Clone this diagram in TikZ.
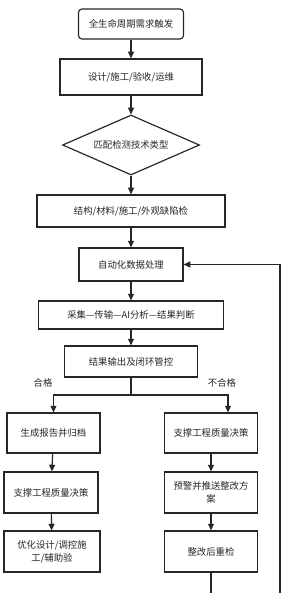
\documentclass[tikz,border=0pt]{standalone}
\usepackage{fontspec}
\newfontfamily\cjk{Noto Sans CJK SC}
\usetikzlibrary{arrows.meta,shapes.geometric}
\definecolor{fcInk}{HTML}{262626}
\newlength{\px}
\setlength{\px}{0.3mm}
\tikzset{
  stepbox/.style ={draw=fcInk,line width=1pt,fill=white,align=center,inner sep=1pt,
                   font=\cjk\fontsize{8}{11}\selectfont,text=fcInk},
  startbox/.style={stepbox,rounded corners=3pt},
  decide/.style  ={stepbox,diamond,aspect=2.3,inner sep=0pt},
  flow/.style    ={-{Triangle[length=2mm,width=1.8mm]},fcInk,line width=1pt},
  lbl/.style     ={font=\cjk\fontsize{8}{10}\selectfont,text=fcInk},
}
\begin{document}
\begin{tikzpicture}[x=0.3mm,y=-0.3mm]
\useasboundingbox (0,0) rectangle (284,593);

% main chain
\node[startbox,minimum width=105\px,minimum height=30\px] (trigger) at (131,24) {全生命周期需求触发};
\node[stepbox,minimum width=142\px,minimum height=36\px] (stage) at (131,77) {设计/施工/验收/运维};
\node[decide,minimum width=137\px,minimum height=60\px] (match) at (131,145) {匹配检测技术类型};
\node[stepbox,minimum width=188\px,minimum height=32\px] (inspect) at (131,211) {结构/材料/施工/外观缺陷检};
\node[stepbox,minimum width=104\px,minimum height=33\px] (process) at (131,264.5) {自动化数据处理};
\node[stepbox,minimum width=185\px,minimum height=28\px] (pipeline) at (131,315) {采集—传输—AI分析—结果判断};
\node[stepbox,minimum width=133\px,minimum height=31\px] (output) at (131,361.5) {结果输出及闭环管控};

\draw[flow] (trigger) -- (stage);
\draw[flow] (stage) -- (match);
\draw[flow] (match) -- (inspect);
\draw[flow] (inspect) -- (process);
\draw[flow] (process) -- (pipeline);
\draw[flow] (pipeline) -- (output);

% qualified branch
\node[stepbox,minimum width=93\px,minimum height=40\px] (report) at (53.5,433) {生成报告并归档};
\node[stepbox,minimum width=94\px,minimum height=41\px] (decideL) at (51,492.5) {支撑工程质量决策};
\node[stepbox,minimum width=96\px,minimum height=41\px] (optimize) at (52,551.5) {优化设计/调控施\\工/辅助验};

% unqualified branch
\node[stepbox,minimum width=93\px,minimum height=40\px] (decideR) at (211,433) {支撑工程质量决策};
\node[stepbox,minimum width=93\px,minimum height=41\px] (warn) at (211,492.5) {预警并推送整改方\\案};
\node[stepbox,minimum width=93\px,minimum height=41\px] (recheck) at (211,551.5) {整改后重检};

\coordinate (split) at (131,395);
\draw[fcInk,line width=1pt] (output) -- (split);
\draw[flow] (split) -| (report.north);
\draw[flow] (split) -| ([xshift=17\px]decideR.north);
\node[lbl] (okLbl) at (43,383) {合格};
\node[lbl] (ngLbl) at (222,383) {不合格};

\draw[flow] (report) -- (decideL);
\draw[flow] (decideL) -- (optimize);
\draw[flow] (decideR) -- (warn);
\draw[flow] (warn) -- (recheck);

% feedback loop back to processing
\coordinate (loopA) at (211,600);
\coordinate (loopB) at (280,600);
\draw[flow] (recheck) -- (loopA) -- (loopB) |- (process.east);
\end{tikzpicture}
\end{document}
